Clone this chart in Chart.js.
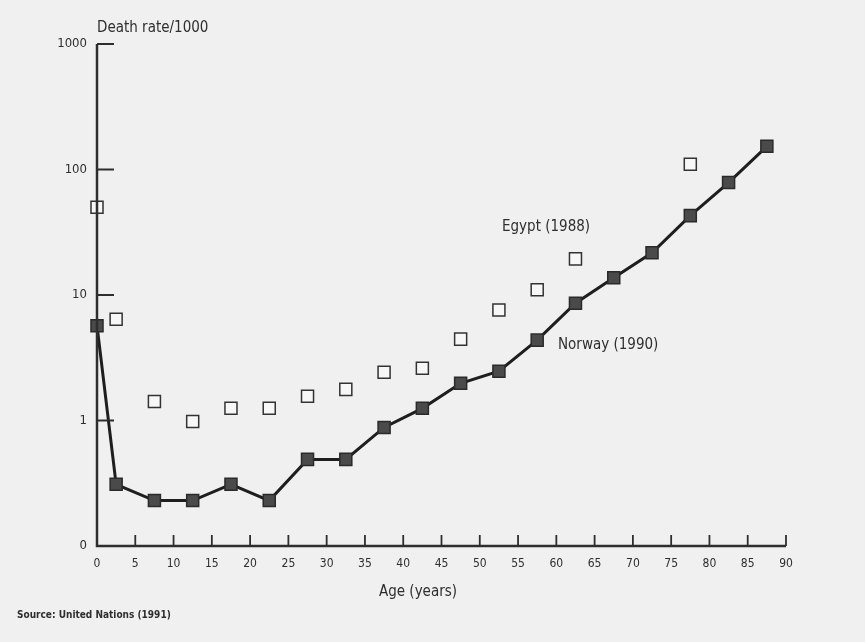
<!DOCTYPE html>
<html>
<head>
<meta charset="utf-8">
<script src="https://cdn.jsdelivr.net/npm/chart.js@4/dist/chart.umd.min.js"></script>
<style>
  html, body { margin: 0; padding: 0; background: #f0f0f0; }
  canvas { display: block; }
</style>
</head>
<body>
<canvas id="c" width="865" height="642"></canvas>
<script>
// Age-group midpoints (years)
const ages = [0, 2.5, 7.5, 12.5, 17.5, 22.5, 27.5, 32.5, 37.5, 42.5, 47.5, 52.5, 57.5, 62.5, 67.5, 72.5, 77.5, 82.5, 87.5];
// Death rate per 1000, Norway (1990)
const norway = [5.7, 0.31, 0.23, 0.23, 0.31, 0.23, 0.49, 0.49, 0.88, 1.25, 1.98, 2.47, 4.37, 8.6, 13.7, 21.7, 42.9, 78.7, 153];
// Death rate per 1000, Egypt (1988)
const egyptAges = [0, 2.5, 7.5, 12.5, 17.5, 22.5, 27.5, 32.5, 37.5, 42.5, 47.5, 52.5, 57.5, 62.5, 77.5];
const egypt = [50, 6.4, 1.42, 0.98, 1.25, 1.25, 1.56, 1.77, 2.42, 2.61, 4.45, 7.6, 11, 19.4, 110];
// Axis ticks
const yTicks = [0.1, 1, 10, 100, 1000];
const yTickLabels = ['0', '1', '10', '100', '1000'];
const xTicks = [0, 5, 10, 15, 20, 25, 30, 35, 40, 45, 50, 55, 60, 65, 70, 75, 80, 85, 90];

const FONT = '"Liberation Sans Narrow", "DejaVu Sans Condensed", "Arial Narrow", sans-serif';
const INK = '#2e2e2e';

// Axis lines, inward tick marks and free text
const decorations = {
  id: 'decorations',
  afterDatasetsDraw(chart) {
    const {ctx, chartArea: a, scales: {x, y}} = chart;
    ctx.save();
    ctx.strokeStyle = INK;
    ctx.lineCap = 'butt';
    // axes
    ctx.lineWidth = 2.5;
    ctx.beginPath();
    ctx.moveTo(a.left, a.top);
    ctx.lineTo(a.left, a.bottom);
    ctx.lineTo(x.getPixelForValue(90), a.bottom);
    ctx.stroke();
    // y tick marks pointing right
    ctx.lineWidth = 2;
    yTicks.slice(1).forEach(v => {
      const py = y.getPixelForValue(v);
      ctx.beginPath();
      ctx.moveTo(a.left, py);
      ctx.lineTo(a.left + 17, py);
      ctx.stroke();
    });
    // x tick marks pointing up
    ctx.lineWidth = 1.8;
    xTicks.slice(1).forEach(v => {
      const px = x.getPixelForValue(v);
      ctx.beginPath();
      ctx.moveTo(px, a.bottom);
      ctx.lineTo(px, a.bottom - 11);
      ctx.stroke();
    });
    // texts
    ctx.fillStyle = INK;
    ctx.textBaseline = 'alphabetic';
    ctx.textAlign = 'left';
    ctx.font = '15px ' + FONT;
    ctx.fillText('Death rate/1000', 97, 32);
    ctx.fillText('Egypt (1988)', 502, 231);
    ctx.fillText('Norway (1990)', 558, 349);
    ctx.textAlign = 'center';
    ctx.font = '15px ' + FONT;
    ctx.fillText('Age (years)', 418, 596);
    ctx.textAlign = 'left';
    ctx.font = 'bold 10px ' + FONT;
    ctx.fillText('Source: United Nations (1991)', 17, 618);
    ctx.restore();
  }
};

new Chart(document.getElementById('c'), {
  type: 'scatter',
  data: {
    datasets: [
      {
        label: 'Egypt (1988)',
        data: egyptAges.map((a, i) => ({x: a, y: egypt[i]})),
        showLine: false,
        pointStyle: 'rect',
        pointRadius: 8.5,
        pointBackgroundColor: '#f7f7f7',
        pointBorderColor: '#333',
        pointBorderWidth: 1.5,
        clip: false
      },
      {
        label: 'Norway (1990)',
        data: ages.map((a, i) => ({x: a, y: norway[i]})),
        showLine: true,
        borderColor: '#1e1e1e',
        borderWidth: 3,
        pointStyle: 'rect',
        pointRadius: 8.5,
        pointBackgroundColor: '#4a4a4a',
        pointBorderColor: '#2a2a2a',
        pointBorderWidth: 1.5,
        tension: 0,
        clip: false
      }
    ]
  },
  options: {
    responsive: false,
    animation: false,
    layout: { padding: { left: 0, top: 44, right: 79, bottom: 0 } },
    plugins: { legend: { display: false }, tooltip: { enabled: false } },
    scales: {
      x: {
        type: 'linear',
        min: 0, max: 90,
        afterFit: s => { s.height = 96; },
        afterBuildTicks: s => { s.ticks = xTicks.map(v => ({value: v})); },
        grid: { display: false, drawTicks: false },
        border: { display: false },
        ticks: {
          padding: 11,
          color: INK,
          font: { family: FONT, size: 12 },
          maxRotation: 0,
          autoSkip: false
        }
      },
      y: {
        type: 'logarithmic',
        min: 0.1, max: 1000,
        afterFit: s => { s.width = 97; },
        afterBuildTicks: s => { s.ticks = yTicks.map(v => ({value: v})); },
        grid: { display: false, drawTicks: false },
        border: { display: false },
        ticks: {
          padding: 10,
          color: INK,
          font: { family: FONT, size: 13 },
          callback: v => yTickLabels[yTicks.indexOf(v)]
        }
      }
    }
  },
  plugins: [decorations]
});
</script>
</body>
</html>
